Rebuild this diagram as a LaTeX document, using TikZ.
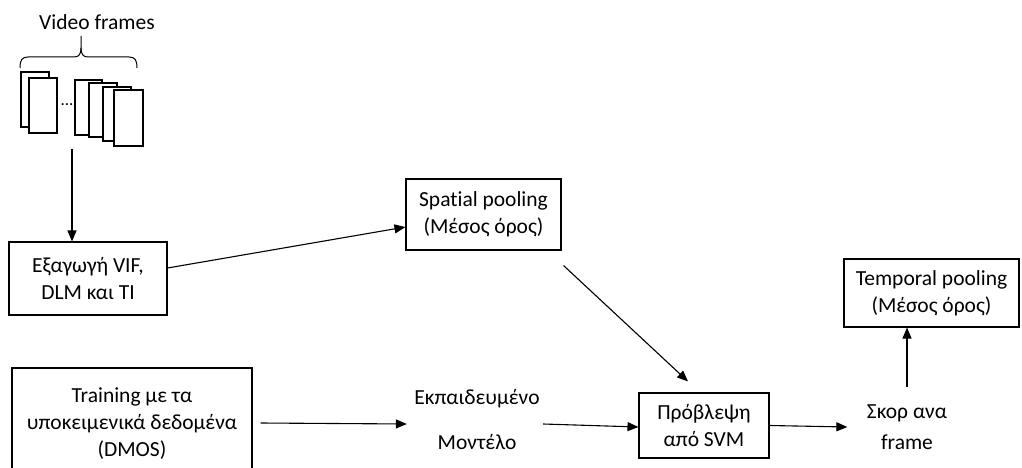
\documentclass[tikz,border=0pt]{standalone}
\usepackage{fontspec}
\setmainfont{Carlito}[Ligatures=NoCommon]
\usetikzlibrary{arrows.meta,calc,positioning}
\tikzstyle{arrow} = [draw, -{Triangle[length=11pt,width=9pt]}]
\tikzstyle{box} = [draw, align=center, inner sep=3pt]
\tikzstyle{txt} = [align=center, inner sep=3pt]
\tikzstyle{frameRect} = [draw, fill=white]

\begin{document}
\begin{tikzpicture}[
      x=1pt, y=-1pt,
      line width=1.1pt,
      font=\fontsize{21.5}{27}\selectfont
    ]
      \useasboundingbox (0,0) rectangle (1022,468);

      % video frames
      \node[txt] (videoLbl) at (97,22) {Video frames};
      \draw[line width=1pt] (20,68) .. controls (20,60) and (22,57) .. (28,57) -- (74,57)
        .. controls (79,57) and (81,54) .. (81,48) -- (81,36);
      \draw[line width=1pt] (81,48) .. controls (81,54) and (83,57) .. (88,57) -- (129,57)
        .. controls (135,57) and (137,60) .. (137,68);
      \foreach \xa/\ya/\xb/\yb in {21/72/49/127, 29/78/57/133, 75/80/102/135,
                                   89/83/117/137, 103/87/131/141, 114/90/143/146}
        \draw[frameRect] (\xa,\ya) rectangle (\xb,\yb);
      \node[inner sep=0pt] (dots) at (67,105) {\fontsize{17}{17}\selectfont ...};
      \coordinate (framesOut) at (72,149);

      \node[box, minimum width=158pt, minimum height=73pt] (extract) at (88,278.5)
        {Εξαγωγή VIF,\\DLM και TI};
      \node[box, minimum width=155pt, minimum height=71pt] (spatialPool) at (483.5,214.5)
        {Spatial pooling\\(Μέσος όρος)};
      \node[box, minimum width=175pt, minimum height=68pt] (temporalPool) at (931.5,293)
        {Temporal pooling\\(Μέσος όρος)};
      \node[box, minimum width=130pt, minimum height=65pt] (predict) at (704,425.5)
        {Πρόβλεψη\\από SVM};
      \node[box, minimum width=240pt, minimum height=112pt] (training) at (132,424)
        {Training με τα\\υποκειμενικά δεδομένα\\(DMOS)};
      \node[txt] (model) at (477,420) {Εκπαιδευμένο\\[18pt]Μοντέλο};
      \node[txt] (score) at (907,427) {Σκορ ανα\\[4pt]frame};

      \path[arrow] (framesOut) -- (framesOut |- extract.north);
      \path[arrow] ([yshift=10.5pt]extract.east) -- ([yshift=-12.5pt]spatialPool.west);
      \path[arrow] ([xshift=2pt,yshift=-15pt]spatialPool.south east)
        -- ([xshift=-16pt,yshift=11pt]predict.north);
      \path[arrow] ([xshift=8pt,yshift=1pt]training.east) -- ([xshift=-4pt]model.west |- training.east);
      \path[arrow] ([yshift=-4pt]model.east) -- ([yshift=-1.5pt]predict.west);
      \path[arrow] (predict.east) -- ([xshift=-16pt]score.west);
      \path[arrow] ([yshift=14pt]score.north) -- (score.north |- temporalPool.south);
    \end{tikzpicture}
\end{document}
